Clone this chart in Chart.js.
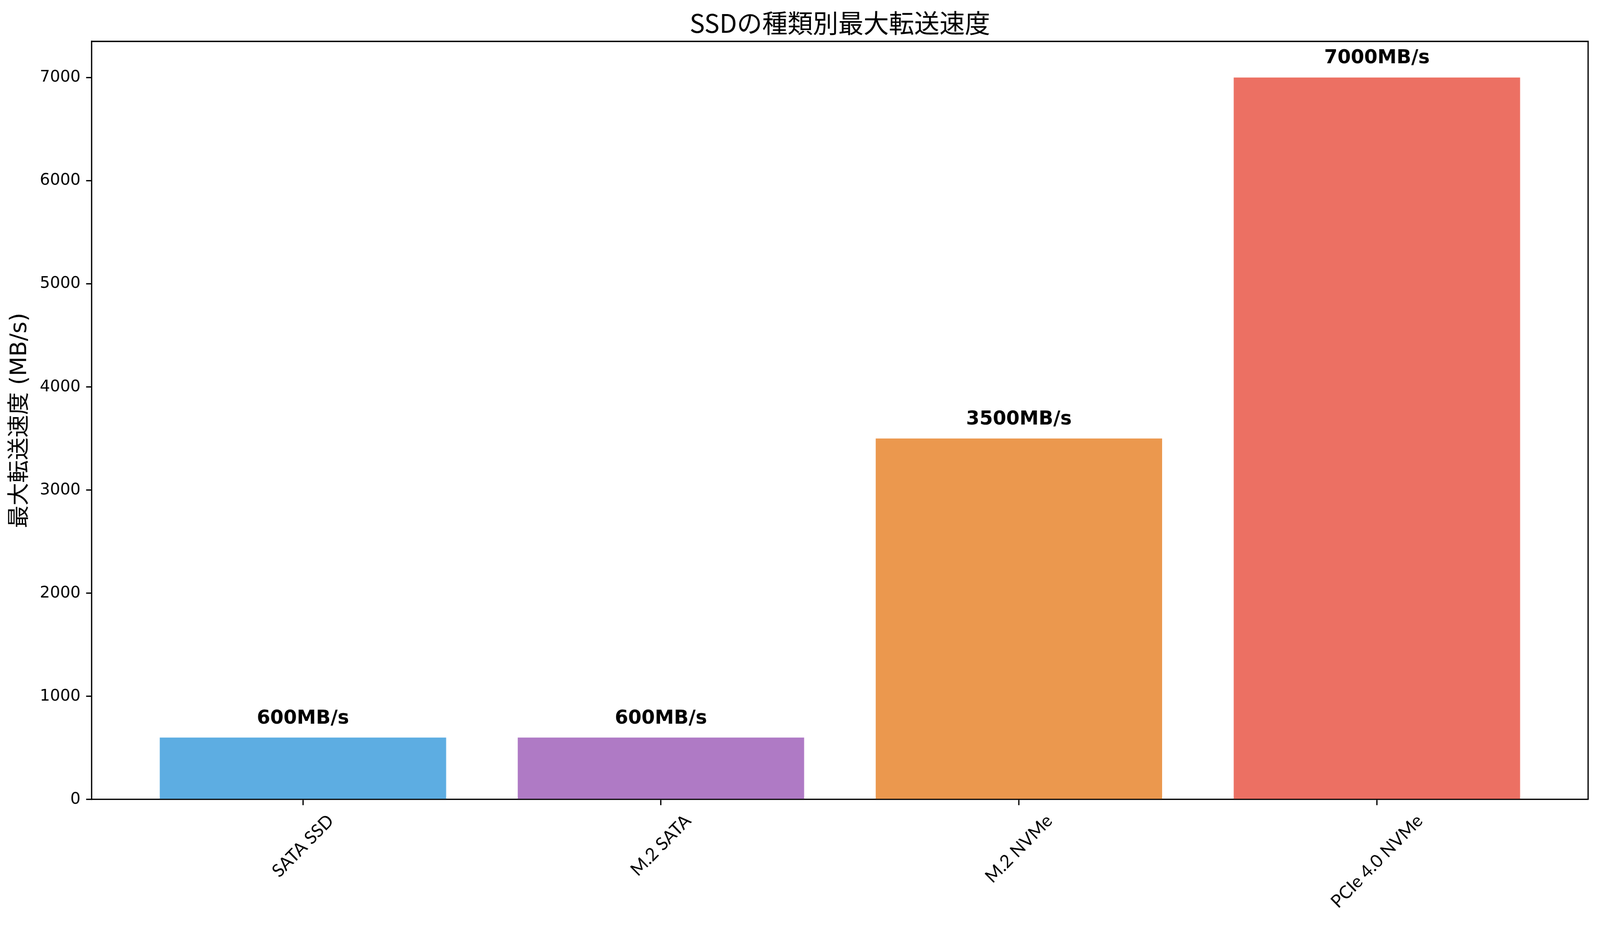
<!DOCTYPE html>
<html>
<head>
<meta charset="utf-8">
<script src="https://cdn.jsdelivr.net/npm/chart.js@4.4.1/dist/chart.umd.min.js"></script>
<style>
  html, body { margin: 0; padding: 0; background: #ffffff; overflow: hidden; }
  #c { display: block; width: 100vw; height: 100vh; }
</style>
</head>
<body>
<canvas id="c" width="4169" height="2371" style="display:block;width:100vw;height:100vh"></canvas>
<script>
// ---- data ----
const categories = ["SATA SSD", "M.2 SATA", "M.2 NVMe", "PCIe 4.0 NVMe"];
const speeds = [600, 600, 3500, 7000];
const barColors = ["#5DADE2", "#AF7AC5", "#EB984E", "#EC7063"];
const yTicks = [0, 1000, 2000, 3000, 4000, 5000, 6000, 7000];
const chartTitle = "SSDの種類別最大転送速度";
const yAxisTitle = "最大転送速度 (MB/s)";
const valueSuffix = "MB/s";

const LW = 3.33;       // 0.8pt at 300dpi
const TICK = 14.6;     // 3.5pt

const frame = {
  id: 'frame',
  afterDraw(chart) {
    const { ctx, chartArea: a } = chart;
    ctx.save();
    ctx.strokeStyle = '#000';
    ctx.lineWidth = LW;
    ctx.beginPath();
    ctx.moveTo(a.left, a.top);
    ctx.lineTo(a.right, a.top);
    ctx.lineTo(a.right, a.bottom);
    ctx.stroke();
    ctx.restore();
  }
};

const valueLabels = {
  id: 'valueLabels',
  afterDatasetsDraw(chart) {
    const { ctx } = chart;
    const meta = chart.getDatasetMeta(0);
    ctx.save();
    ctx.fillStyle = '#000';
    ctx.font = 'bold 50px "DejaVu Sans"';
    ctx.textAlign = 'center';
    ctx.textBaseline = 'alphabetic';
    meta.data.forEach((el, i) => {
      ctx.fillText(speeds[i] + valueSuffix, el.x, el.y - 36);
    });
    ctx.restore();
  }
};

const xLabels = {
  id: 'xLabels',
  afterDraw(chart) {
    const { ctx, chartArea: a } = chart;
    const xs = chart.scales.x;
    const fs = 46;
    ctx.save();
    ctx.fillStyle = '#000';
    ctx.font = fs + 'px Lato';
    ctx.textAlign = 'center';
    ctx.textBaseline = 'middle';
    const y0 = a.bottom + TICK + TICK;
    categories.forEach((lab, i) => {
      const x = xs.getPixelForValue(i);
      const w = ctx.measureText(lab).width;
      const h = fs * 1.1;
      const half = (w + h) / (2 * Math.SQRT2);
      ctx.save();
      ctx.translate(x, y0 + half);
      ctx.rotate(-Math.PI / 4);
      ctx.fillText(lab, 0, 0);
      ctx.restore();
    });
    ctx.restore();
  }
};

new Chart(document.getElementById('c'), {
  type: 'bar',
  data: {
    datasets: [{
      data: categories.map((c, i) => ({ x: i, y: speeds[i] })),
      backgroundColor: barColors,
      borderWidth: 0,
      barPercentage: 0.8,
      categoryPercentage: 1.0
    }]
  },
  options: {
    responsive: false,
    devicePixelRatio: 1,
    animation: false,
    layout: { padding: { left: 0, right: 31, top: 0, bottom: 0 } },
    plugins: {
      legend: { display: false },
      tooltip: { enabled: false },
      title: {
        display: true,
        text: chartTitle,
        fullSize: false,
        color: '#000',
        font: { family: '"Noto Sans CJK JP"', size: 66, weight: 'normal', lineHeight: 1.2 },
        padding: { top: 19, bottom: 7.8 }
      }
    },
    scales: {
      x: {
        type: 'linear',
        offset: false,
        min: -0.59,
        max: 3.59,
        afterBuildTicks: s => { s.ticks = categories.map((c, i) => ({ value: i })); },
        afterFit: s => { s.height = 324; },
        ticks: { display: false },
        grid: { offset: false, drawOnChartArea: false, drawTicks: true, tickLength: TICK, color: '#000', lineWidth: LW },
        border: { display: true, color: '#000', width: LW }
      },
      y: {
        type: 'linear',
        min: 0,
        max: 7350,
        afterBuildTicks: s => { s.ticks = yTicks.map(v => ({ value: v })); },
        afterFit: s => { s.width = 239; },
        ticks: {
          color: '#000',
          padding: 14.6,
          font: { family: '"DejaVu Sans"', size: 41.7 },
          callback: v => String(v)
        },
        grid: { drawOnChartArea: false, drawTicks: true, tickLength: TICK, color: '#000', lineWidth: LW },
        border: { display: true, color: '#000', width: LW },
        title: {
          display: true,
          text: yAxisTitle,
          color: '#000',
          font: { family: '"DejaVu Sans", "Noto Sans CJK JP"', size: 58, lineHeight: 1.2 },
          padding: { top: 18, bottom: 0 }
        }
      }
    }
  },
  plugins: [frame, valueLabels, xLabels]
});
</script>
</body>
</html>
